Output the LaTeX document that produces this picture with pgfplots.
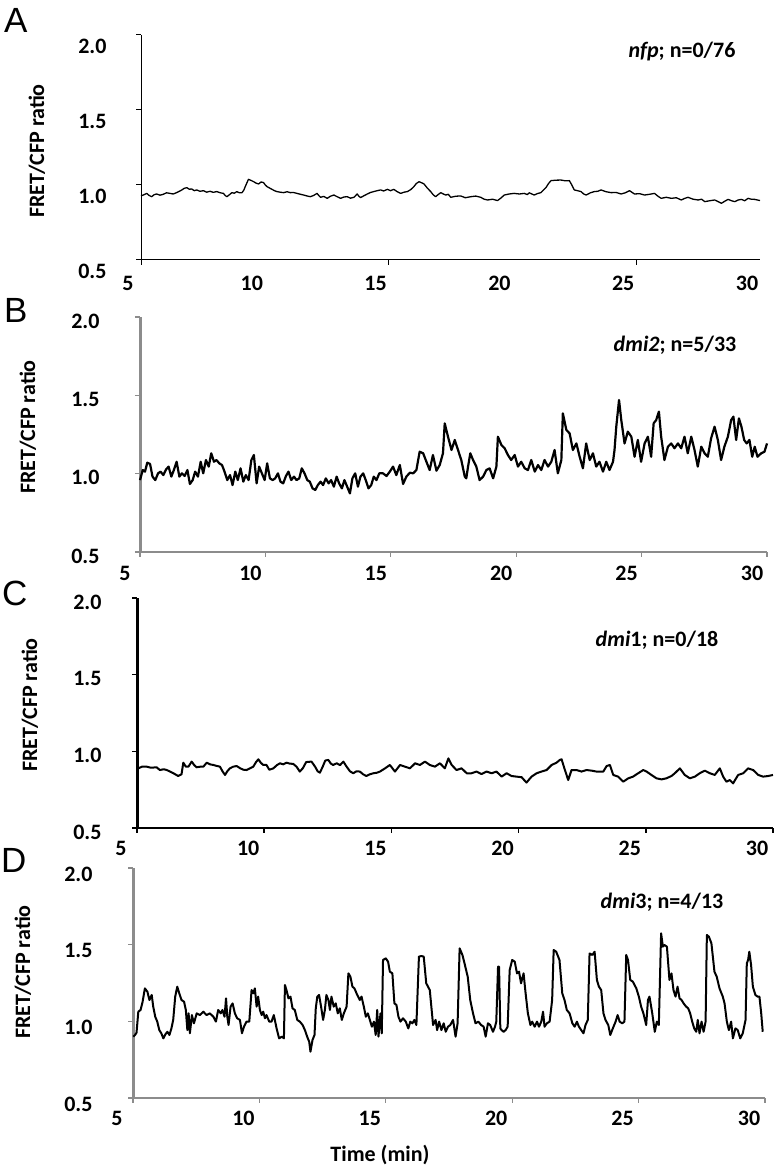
\documentclass[border=0pt]{standalone}
\usepackage{pgfplots}
\pgfplotsset{compat=1.18}
\usepackage{fontspec}
\setmainfont{Carlito}
\newfontfamily\letterfont{Liberation Sans}
\definecolor{axgray}{RGB}{140,140,140}
\newcommand{\tlfont}{\fontsize{22}{25}\selectfont\bfseries}
\pgfplotsset{
  panel/.style={scale only axis, anchor=south west,
    xmin=5, xmax=30, ymin=0.5, ymax=2.0,
    axis x line=bottom, axis y line=left, axis line style={-},
    xtick={5,10,...,30}, xticklabels={5,10,15,20,25,30},
    ytick={0.5,1,1.5,2}, yticklabels={0.5,1.0,1.5,2.0},
    tick align=outside, major tick length=5pt,
    ticklabel style={font=\tlfont},
    clip=false}
}
\begin{document}
\begin{tikzpicture}
\path[use as bounding box] (0,0) rectangle (776pt,1169pt);

% ---------------- A ----------------
\begin{axis}[panel, at={(141pt,909pt)}, width=619pt, height=225pt,
  x axis line style={black, line width=1pt}, y axis line style={black, line width=1pt},
  tick style={black, line width=1pt},
  xtick={5,15,25}, xticklabels={5,15,25},
  extra x ticks={10,20,30}, extra x tick labels={10,20,30},
  extra x tick style={tick style={draw=none}},
  xticklabel style={xshift=-13pt, yshift=-8pt},
  yticklabel style={xshift=-26pt, yshift=-11pt}]
\addplot[black, line width=1.3pt, mark=none, line join=round] coordinates {
(5.00,0.927)(5.12,0.935)(5.23,0.944)(5.33,0.930)(5.43,0.922)(5.53,0.935)(5.63,0.940)(5.77,0.932)(5.90,0.938)(6.03,0.948)(6.17,0.944)(6.30,0.940)(6.44,0.949)(6.55,0.958)(6.65,0.967)(6.75,0.978)(6.85,0.982)(6.95,0.972)(7.05,0.973)
(7.15,0.962)(7.25,0.967)(7.38,0.958)(7.52,0.962)(7.65,0.952)(7.79,0.958)(7.92,0.951)(8.06,0.956)(8.20,0.948)(8.33,0.944)(8.40,0.930)(8.47,0.922)(8.57,0.935)(8.67,0.949)(8.77,0.945)(8.87,0.956)(8.97,0.948)(9.08,0.949)(9.15,0.965)(9.21,0.989)
(9.34,1.038)(9.45,1.030)(9.55,1.022)(9.65,1.012)(9.75,1.007)(9.85,1.020)(9.95,1.016)(10.02,1.000)(10.09,0.989)(10.19,0.980)(10.29,0.971)(10.39,0.962)(10.49,0.956)(10.62,0.952)(10.76,0.949)(10.90,0.955)(11.03,0.949)(11.16,0.950)(11.30,0.944)
(11.44,0.938)(11.57,0.933)(11.70,0.927)(11.84,0.922)(11.97,0.930)(12.11,0.944)(12.18,0.930)(12.25,0.918)(12.38,0.924)(12.52,0.911)(12.65,0.925)(12.79,0.933)(12.92,0.922)(13.06,0.911)(13.20,0.920)(13.33,0.922)(13.46,0.912)(13.60,0.918)(13.73,0.940)
(13.80,0.925)(13.87,0.916)(14.00,0.928)(14.14,0.940)(14.27,0.950)(14.40,0.956)(14.54,0.962)(14.68,0.967)(14.80,0.960)(14.95,0.971)(15.08,0.962)(15.21,0.971)(15.35,0.955)(15.49,0.944)(15.62,0.952)(15.76,0.956)(15.90,0.970)(16.02,0.989)(16.12,1.010)(16.23,1.022)
(16.33,1.015)(16.43,1.007)(16.56,0.980)(16.70,0.956)(16.80,0.935)(16.90,0.922)(17.00,0.936)(17.11,0.949)(17.21,0.940)(17.31,0.933)(17.41,0.938)(17.51,0.918)(17.71,0.925)(17.91,0.927)(18.10,0.915)(18.32,0.922)(18.52,0.926)(18.72,0.918)(18.86,0.905)(19.00,0.900)
(19.20,0.905)(19.40,0.896)(19.55,0.915)(19.67,0.933)(19.87,0.940)(20.07,0.944)(20.28,0.940)(20.48,0.944)(20.60,0.936)(20.68,0.948)(20.88,0.933)(21.00,0.942)(21.15,0.949)(21.36,0.984)(21.46,1.010)(21.56,1.029)(21.76,1.032)(21.96,1.033)(22.13,1.028)(22.30,1.029)
(22.40,1.000)(22.50,0.967)(22.63,0.962)(22.77,0.956)(22.88,0.940)(22.98,0.933)(23.15,0.948)(23.31,0.956)(23.45,0.958)(23.58,0.967)(23.78,0.955)(23.99,0.949)(24.19,0.950)(24.39,0.940)(24.56,0.948)(24.73,0.962)(24.93,0.940)(25.14,0.942)(25.34,0.933)(25.54,0.938)
(25.74,0.944)(25.88,0.925)(26.01,0.911)(26.21,0.918)(26.42,0.911)(26.62,0.915)(26.82,0.900)(26.95,0.910)(27.09,0.918)(27.30,0.905)(27.50,0.900)(27.64,0.905)(27.77,0.889)(27.97,0.895)(28.17,0.900)(28.30,0.890)(28.44,0.878)(28.58,0.892)(28.71,0.904)(28.85,0.895)
(28.98,0.889)(29.12,0.900)(29.25,0.904)(29.38,0.895)(29.52,0.911)(29.65,0.905)(29.79,0.904)(30.00,0.896)
};
\end{axis}

% ---------------- B ----------------
\begin{axis}[panel, at={(140pt,617pt)}, width=627pt, height=235pt,
  x axis line style={axgray, line width=1.5pt}, y axis line style={axgray, line width=3pt},
  tick style={axgray, line width=1.2pt},
  xticklabel style={xshift=-15pt, yshift=-6pt},
  yticklabel style={xshift=-32pt, yshift=-4pt}]
\addplot[black, line width=2.2pt, mark=none, line join=round] coordinates {
(5.00,0.959)(5.11,1.023)(5.20,1.013)(5.29,1.070)(5.40,1.062)(5.50,0.981)(5.61,0.959)(5.72,1.002)(5.82,1.013)(5.93,0.991)
(6.04,1.027)(6.14,1.045)(6.25,0.981)(6.35,1.023)(6.46,1.076)(6.57,0.981)(6.67,1.002)(6.78,0.985)(6.89,1.023)(6.99,0.934)
(7.10,0.959)(7.20,1.013)(7.31,0.981)(7.42,1.076)(7.52,1.002)(7.63,1.087)(7.74,1.045)(7.84,1.130)(7.95,1.076)(8.05,1.087)
(8.16,1.066)(8.27,1.055)(8.37,1.013)(8.48,0.959)(8.59,0.991)(8.69,0.927)(8.80,1.013)(8.90,0.959)(9.01,1.034)(9.12,0.949)
(9.22,0.991)(9.33,0.959)(9.44,1.087)(9.54,1.119)(9.65,0.938)(9.75,1.045)(9.86,1.002)(9.97,0.959)(10.07,1.066)(10.18,0.970)
(10.29,0.959)(10.39,0.970)(10.50,1.002)(10.60,0.949)(10.71,0.938)(10.82,0.985)(10.92,1.013)(11.03,0.959)(11.14,0.981)(11.24,0.959)
(11.35,0.970)(11.45,1.034)(11.56,1.002)(11.67,0.959)(11.77,0.949)(11.88,0.906)(11.99,0.896)(12.09,0.927)(12.20,0.949)(12.30,0.927)
(12.41,0.970)(12.52,0.938)(12.62,0.959)(12.73,0.917)(12.84,0.981)(12.94,0.938)(13.05,0.906)(13.15,0.959)(13.26,0.917)(13.37,0.874)
(13.47,0.970)(13.58,1.002)(13.69,0.917)(13.79,0.981)(13.90,1.002)(14.00,0.959)(14.11,0.906)(14.22,0.927)(14.32,0.981)(14.43,0.959)
(14.54,1.002)(14.69,1.002)(14.83,0.985)(14.96,1.013)(15.09,1.045)(15.22,0.991)(15.36,1.055)(15.49,0.934)(15.62,0.981)(15.76,1.006)
(15.89,1.002)(16.02,1.023)(16.15,1.140)(16.29,1.130)(16.42,1.076)(16.55,1.023)(16.68,1.119)(16.82,1.019)(16.95,1.055)(17.08,1.130)
(17.15,1.321)(17.28,1.236)(17.42,1.151)(17.55,1.215)(17.68,1.151)(17.81,1.087)(17.95,0.981)(18.01,0.970)(18.08,1.045)(18.17,1.130)
(18.28,1.087)(18.41,1.045)(18.54,0.959)(18.68,0.981)(18.81,1.023)(18.94,1.034)(19.08,0.970)(19.21,1.045)(19.27,1.236)(19.41,1.183)
(19.54,1.162)(19.67,1.119)(19.80,1.087)(19.94,1.119)(20.07,1.045)(20.20,1.076)(20.34,1.034)(20.47,1.023)(20.60,1.087)(20.74,1.013)
(20.87,1.055)(21.00,1.023)(21.13,1.087)(21.27,1.045)(21.40,1.076)(21.53,1.151)(21.66,1.002)(21.80,1.087)(21.86,1.385)(22.00,1.279)
(22.13,1.257)(22.26,1.151)(22.40,1.193)(22.53,1.108)(22.66,1.034)(22.79,1.193)(22.93,1.087)(23.06,1.130)(23.19,1.045)(23.32,1.076)
(23.46,1.013)(23.59,1.076)(23.72,1.023)(23.86,1.076)(23.92,1.151)(23.99,1.300)(24.10,1.470)(24.19,1.342)(24.32,1.193)(24.45,1.268)
(24.59,1.236)(24.72,1.108)(24.85,1.215)(24.98,1.076)(25.12,1.193)(25.25,1.236)(25.38,1.108)(25.48,1.321)(25.58,1.342)(25.69,1.396)
(25.78,1.236)(25.91,1.087)(26.05,1.172)(26.18,1.193)(26.31,1.162)(26.45,1.193)(26.58,1.162)(26.71,1.236)(26.84,1.130)(26.98,1.236)
(27.11,1.151)(27.24,1.045)(27.38,1.172)(27.51,1.130)(27.64,1.108)(27.77,1.225)(27.91,1.300)(28.04,1.215)(28.17,1.087)(28.30,1.172)
(28.44,1.236)(28.57,1.342)(28.66,1.364)(28.77,1.215)(28.88,1.353)(28.98,1.300)(29.09,1.215)(29.19,1.193)(29.30,1.215)(29.41,1.108)
(29.51,1.172)(29.62,1.108)(29.77,1.130)(29.90,1.140)(30.00,1.193)
};
\end{axis}

% ---------------- C ----------------
\begin{axis}[panel, at={(137pt,341pt)}, width=636pt, height=230pt,
  x axis line style={black, line width=2pt}, y axis line style={black, line width=3pt},
  tick style={black, line width=1.5pt},
  xticklabel style={xshift=-16pt, yshift=-5pt},
  yticklabel style={xshift=-27pt, yshift=-4pt}]
\addplot[black, line width=2pt, mark=none, line join=round] coordinates {
(5.05,0.889)(5.20,0.900)(5.38,0.900)(5.55,0.893)(5.77,0.896)(5.90,0.878)(6.05,0.883)(6.17,0.878)(6.30,0.868)(6.43,0.857)
(6.62,0.839)(6.75,0.850)(6.82,0.926)(6.92,0.900)(7.02,0.900)(7.15,0.933)(7.25,0.910)(7.34,0.896)(7.50,0.900)(7.61,0.900)
(7.74,0.926)(7.87,0.915)(8.00,0.911)(8.13,0.905)(8.26,0.900)(8.36,0.870)(8.46,0.846)(8.55,0.870)(8.65,0.889)(8.78,0.900)
(8.92,0.904)(9.05,0.890)(9.18,0.880)(9.31,0.878)(9.45,0.890)(9.57,0.900)(9.68,0.930)(9.77,0.948)(9.87,0.925)(9.96,0.911)
(10.09,0.911)(10.20,0.880)(10.36,0.889)(10.50,0.910)(10.62,0.922)(10.75,0.915)(10.88,0.926)(11.00,0.920)(11.14,0.918)(11.27,0.900)
(11.40,0.868)(11.52,0.890)(11.65,0.930)(11.86,0.933)(12.00,0.900)(12.10,0.870)(12.19,0.861)(12.30,0.900)(12.40,0.940)(12.52,0.944)
(12.62,0.920)(12.71,0.911)(12.85,0.922)(12.98,0.910)(13.11,0.933)(13.24,0.900)(13.37,0.870)(13.50,0.857)(13.63,0.870)(13.76,0.868)
(13.89,0.850)(14.02,0.839)(14.15,0.850)(14.29,0.857)(14.42,0.860)(14.55,0.868)(14.75,0.889)(14.94,0.911)(15.14,0.868)(15.34,0.911)
(15.53,0.900)(15.73,0.889)(15.93,0.922)(16.12,0.911)(16.32,0.933)(16.51,0.911)(16.71,0.900)(16.91,0.922)(17.10,0.889)(17.24,0.954)
(17.37,0.911)(17.56,0.878)(17.76,0.889)(17.96,0.857)(18.15,0.857)(18.35,0.868)(18.54,0.852)(18.74,0.868)(18.94,0.857)(19.13,0.868)
(19.33,0.835)(19.53,0.857)(19.72,0.839)(19.92,0.835)(20.12,0.831)(20.31,0.796)(20.51,0.835)(20.71,0.857)(20.90,0.868)(21.10,0.878)
(21.30,0.911)(21.49,0.926)(21.62,0.944)(21.69,0.948)(21.82,0.878)(21.95,0.813)(22.08,0.878)(22.28,0.878)(22.47,0.868)(22.67,0.878)
(22.87,0.874)(23.06,0.868)(23.33,0.868)(23.46,0.904)(23.59,0.911)(23.72,0.846)(23.91,0.835)(24.11,0.802)(24.31,0.824)(24.50,0.835)
(24.70,0.857)(24.90,0.878)(25.03,0.868)(25.22,0.846)(25.42,0.824)(25.62,0.817)(25.81,0.824)(26.01,0.839)(26.14,0.857)(26.34,0.889)
(26.53,0.846)(26.73,0.824)(26.93,0.835)(27.12,0.857)(27.32,0.874)(27.52,0.857)(27.71,0.846)(27.91,0.889)(28.04,0.835)(28.17,0.802)
(28.30,0.813)(28.43,0.791)(28.63,0.846)(28.83,0.857)(29.02,0.889)(29.22,0.878)(29.42,0.846)(29.61,0.835)(29.81,0.839)(30.00,0.846)
};
\end{axis}

% ---------------- D ----------------
\begin{axis}[panel, at={(133pt,71pt)}, width=632pt, height=230pt,
  x axis line style={axgray, line width=1.5pt}, y axis line style={axgray, line width=3pt},
  tick style={axgray, line width=1.2pt},
  xticklabel style={xshift=-16pt, yshift=-5pt},
  yticklabel style={xshift=-32pt, yshift=-6pt}]
\addplot[black, line width=2pt, mark=none, line join=round] coordinates {
(5.01,0.900)(5.08,0.911)(5.14,0.926)(5.21,1.063)(5.30,1.074)(5.38,1.128)(5.47,1.215)(5.57,1.193)(5.65,1.139)(5.74,1.172)
(5.80,1.096)(5.88,1.030)(5.96,0.998)(6.04,0.943)(6.12,0.922)(6.20,0.889)(6.28,0.915)(6.36,0.932)(6.44,0.911)(6.52,0.954)
(6.59,1.009)(6.67,1.161)(6.75,1.226)(6.83,1.183)(6.92,1.139)(7.02,1.128)(7.09,1.074)(7.15,0.943)(7.20,1.052)(7.25,0.922)
(7.33,1.041)(7.41,0.987)(7.52,1.052)(7.65,1.041)(7.78,1.063)(7.91,1.041)(8.04,1.052)(8.18,1.030)(8.28,0.998)(8.37,1.074)
(8.47,1.052)(8.54,1.074)(8.62,1.030)(8.68,1.150)(8.73,1.030)(8.78,0.976)(8.86,1.096)(8.94,1.117)(9.03,1.052)(9.12,1.020)
(9.23,1.009)(9.31,0.922)(9.39,0.965)(9.49,0.998)(9.60,0.998)(9.69,1.204)(9.76,1.183)(9.82,1.215)(9.89,1.096)(9.95,1.161)
(10.02,1.074)(10.09,1.041)(10.15,1.063)(10.22,1.020)(10.28,1.041)(10.39,0.998)(10.48,0.998)(10.57,1.041)(10.68,0.954)(10.78,0.889)
(10.89,0.900)(10.97,0.889)(11.01,1.237)(11.07,1.204)(11.15,1.150)(11.23,1.161)(11.31,1.085)(11.40,1.074)(11.50,1.009)(11.60,0.998)
(11.71,0.976)(11.80,0.943)(11.89,0.900)(11.97,0.867)(12.02,0.802)(12.10,0.878)(12.18,0.911)(12.23,1.085)(12.29,1.161)(12.36,1.172)
(12.44,1.096)(12.52,1.009)(12.59,1.074)(12.65,1.172)(12.73,1.139)(12.79,1.074)(12.85,1.161)(12.94,1.096)(13.02,1.117)(13.10,1.052)
(13.18,1.085)(13.26,1.009)(13.34,1.052)(13.45,1.096)(13.52,1.313)(13.60,1.291)(13.68,1.226)(13.76,1.215)(13.87,1.172)(13.97,1.139)
(14.04,1.161)(14.13,1.096)(14.21,1.030)(14.29,1.052)(14.37,1.009)(14.45,0.965)(14.53,0.998)(14.60,0.911)(14.66,1.074)(14.71,0.900)
(14.79,1.052)(14.84,0.922)(14.89,1.400)(15.00,1.411)(15.09,1.389)(15.16,1.324)(15.26,1.313)(15.34,1.117)(15.42,1.107)(15.50,1.030)
(15.58,0.998)(15.68,1.020)(15.79,0.998)(15.89,0.954)(15.97,0.998)(16.05,0.987)(16.13,1.009)(16.21,0.976)(16.31,1.422)(16.41,1.426)
(16.50,1.422)(16.60,1.248)(16.74,1.204)(16.87,0.976)(16.97,1.009)(17.03,0.943)(17.11,0.998)(17.20,0.943)(17.29,0.987)(17.37,0.932)
(17.46,0.965)(17.55,0.976)(17.66,1.009)(17.76,0.900)(17.84,0.987)(17.92,1.476)(18.03,1.433)(18.13,1.367)(18.24,1.291)(18.34,1.139)
(18.45,1.052)(18.55,0.987)(18.66,0.998)(18.77,0.976)(18.87,0.965)(18.95,0.900)(19.04,0.987)(19.13,0.976)(19.24,0.932)(19.32,0.965)
(19.37,0.998)(19.44,1.357)(19.48,1.357)(19.53,0.954)(19.58,0.943)(19.66,0.932)(19.74,0.943)(19.82,0.965)(19.90,1.335)(20.00,1.400)
(20.10,1.389)(20.19,1.313)(20.27,1.324)(20.35,1.248)(20.45,1.313)(20.53,1.183)(20.62,1.052)(20.72,0.976)(20.79,0.998)(20.89,0.965)
(20.98,0.998)(21.06,0.965)(21.15,0.998)(21.22,1.063)(21.28,0.965)(21.37,0.987)(21.48,0.998)(21.58,1.139)(21.64,1.465)(21.74,1.454)
(21.87,1.400)(21.98,1.183)(22.07,1.139)(22.16,1.074)(22.27,1.052)(22.38,0.987)(22.47,0.965)(22.56,0.998)(22.64,0.965)(22.73,0.943)
(22.82,0.922)(22.90,0.976)(22.99,1.009)(23.06,1.443)(23.17,1.433)(23.26,1.454)(23.35,1.270)(23.43,1.226)(23.52,1.204)(23.61,1.052)
(23.69,1.009)(23.80,0.976)(23.88,0.911)(23.98,0.954)(24.09,0.998)(24.17,1.041)(24.25,0.998)(24.35,0.987)(24.44,0.998)(24.51,1.433)
(24.58,1.400)(24.67,1.270)(24.77,1.259)(24.91,1.215)(25.01,1.161)(25.10,1.096)(25.19,1.052)(25.30,0.976)(25.37,1.139)(25.43,1.161)
(25.54,1.052)(25.64,0.932)(25.72,0.998)(25.80,0.976)(25.89,1.574)(25.96,1.487)(26.02,1.498)(26.12,1.487)(26.22,1.270)(26.30,1.313)
(26.38,1.204)(26.46,1.161)(26.54,1.226)(26.62,1.150)(26.70,1.139)(26.78,1.117)(26.88,1.096)(26.96,1.085)(27.04,1.052)(27.12,0.998)
(27.20,0.954)(27.28,0.932)(27.34,1.009)(27.41,0.922)(27.49,0.998)(27.57,0.932)(27.65,0.998)(27.70,1.563)(27.78,1.552)(27.88,1.509)
(28.00,1.324)(28.09,1.291)(28.20,1.215)(28.33,1.161)(28.40,1.117)(28.49,0.998)(28.57,0.943)(28.66,0.998)(28.73,0.889)(28.83,0.954)
(28.92,0.943)(29.02,0.889)(29.12,0.922)(29.23,1.009)(29.28,1.378)(29.33,1.400)(29.38,1.454)(29.45,1.367)(29.52,1.226)(29.62,1.172)
(29.71,1.161)(29.78,1.161)(29.85,1.052)(29.91,0.932)
};
\end{axis}

% ---------------- texts ----------------
\begin{scope}[every node/.style={inner sep=0pt}]
\node[anchor=base west, font=\letterfont\fontsize{35}{37}\selectfont] at (4pt,1136pt) {A};
\node[anchor=base west, font=\letterfont\fontsize{35}{37}\selectfont] at (4pt,846pt) {B};
\node[anchor=base west, font=\letterfont\fontsize{35}{37}\selectfont] at (2pt,563pt) {C};
\node[anchor=base west, font=\letterfont\fontsize{35}{37}\selectfont] at (1pt,296pt) {D};

\node[rotate=90, font=\tlfont] at (37pt,1018pt) {FRET/CFP ratio};
\node[rotate=90, font=\tlfont] at (28pt,742pt) {FRET/CFP ratio};
\node[rotate=90, font=\tlfont] at (30pt,464pt) {FRET/CFP ratio};
\node[rotate=90, font=\tlfont] at (23pt,197pt) {FRET/CFP ratio};

\node[font=\tlfont] at (682pt,1117pt) {\textit{nfp}; n=0/76};
\node[font=\tlfont] at (675pt,824pt) {\textit{dmi2}; n=5/33};
\node[font=\tlfont] at (657pt,529pt) {\textit{dmi}1; n=0/18};
\node[font=\tlfont] at (662pt,267pt) {\textit{dmi}3; n=4/13};

\node[font=\tlfont] at (380pt,14pt) {Time (min)};
\end{scope}
\end{tikzpicture}
\end{document}
